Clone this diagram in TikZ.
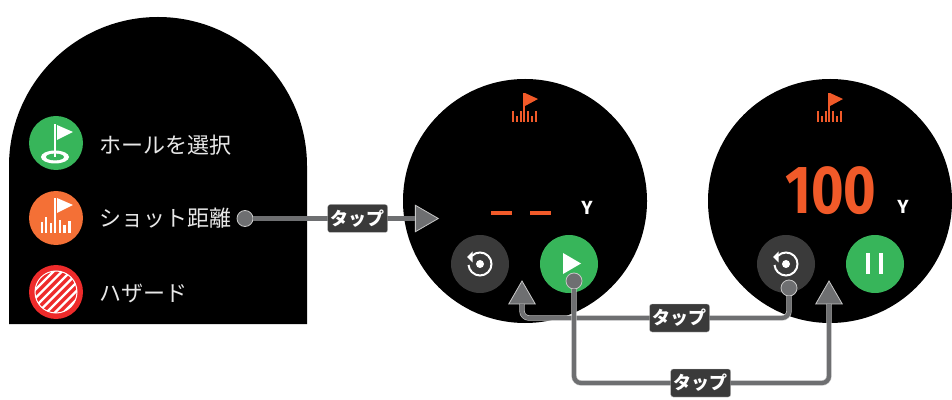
\documentclass[tikz,border=0pt]{standalone}
\usepackage{fontspec}
\setmainfont{Noto Sans CJK JP}
\newfontfamily\unitfont[BoldFont={Fira Sans Bold}]{Fira Sans}
\newfontfamily\distfont[BoldFont={Fira Sans Bold},BoldFeatures={FakeStretch=.82}]{Fira Sans}
\usetikzlibrary{shapes.geometric}
\definecolor{linegray}{HTML}{6E6F71}
\definecolor{edgegray}{HTML}{C8C8C8}
\definecolor{keygray}{HTML}{3A3A3A}
\definecolor{golfgreen}{HTML}{37B55A}
\definecolor{shotorange}{HTML}{F47036}
\definecolor{hazardred}{HTML}{EE2B2B}
\definecolor{distorange}{HTML}{F15A29}
\definecolor{menutext}{HTML}{E8E8E8}
\tikzset{
    watch/.style={circle,fill=black,minimum size=244pt,inner sep=0pt,outer sep=0pt},
    icon/.style={circle,minimum size=54pt,inner sep=0pt,outer sep=0pt},
    button/.style={circle,minimum size=58pt,inner sep=0pt,outer sep=0pt},
    menu/.style={anchor=west,inner sep=0pt,text=menutext,font=\fontsize{22}{24}\selectfont},
    unit/.style={text=white,inner sep=0pt,font=\unitfont\bfseries\fontsize{19}{20}\selectfont},
    grip/.style={circle,fill=linegray,draw=edgegray,line width=.8pt,minimum size=16pt,inner sep=0pt,outer sep=0pt},
    pointer/.style={regular polygon,regular polygon sides=3,fill=linegray,draw=edgegray,line width=.8pt,minimum size=30.6pt,inner sep=0pt,outer sep=0pt},
    link/.style={draw=edgegray,line width=.6pt,double=linegray,double distance=4.2pt,rounded corners=7pt},
    tapbox/.style={fill=keygray,draw=edgegray,line width=.3pt,rounded corners=2.5pt,minimum width=60pt,minimum height=28pt,inner sep=0pt,text=white,font=\bfseries\fontsize{18}{20}\selectfont}
}
\begin{document}
\begin{tikzpicture}[x=1pt,y=1pt]
    \useasboundingbox (0,0) rectangle (952,399);
    % menu panel
    \fill[black] (9,75) -- (9,233) arc (180:0:149) -- (307,75) -- cycle;
    \node[icon,fill=golfgreen] (holeicon) at (56,256) {};
    \node[icon,fill=shotorange] (shoticon) at (56,181) {};
    \node[icon,fill=hazardred] (hazardicon) at (56,107) {};
    \node[menu] (holetext) at (99.5,254) {ホールを選択};
    \node[menu] (shottext) at (99.5,181) {ショット距離};
    \node[menu] (hazardtext) at (99.5,106) {ハザード};
    % hole icon
    \fill[white] (55,242) ellipse (14 and 6.5);
    \fill[golfgreen] (55,242) ellipse (9 and 3.4);
    \fill[white] (53.8,242) rectangle (56.4,275);
    \fill[white] (57,274) -- (73,267) -- (57,259) -- cycle;
    % shot icon
    \fill[white] (53.8,166) rectangle (56.4,201);
    \fill[white] (57,201) -- (73,194) -- (57,186) -- cycle;
    \foreach \bx/\bt in {41.7/177,46/182,50.7/176,60/179,64.3/174,69.3/178}
        \fill[white] (\bx-1.2,166) rectangle (\bx+1.2,\bt);
    % hazard icon
    \begin{scope}
        \clip (56,107) circle (21);
        \fill[hazardred] (30,80) rectangle (82,134);
        \foreach \sx in {-40,-31.5,...,40}
            \draw[white,line width=2.4pt] (56+\sx-30,107-30) -- (56+\sx+30,107+30);
    \end{scope}
    \draw[white,line width=1pt] (56,107) circle (21);
    % watch faces
    \node[watch] (faceA) at (525,198) {};
    \node[watch] (faceB) at (830,198) {};
    \foreach \fx in {525,830} {
        \fill[distorange] (\fx-2,277) rectangle (\fx,306);
        \fill[distorange] (\fx,306) -- (\fx+13,300) -- (\fx,293) -- cycle;
        \foreach \bx/\bt in {-12/288,-8/283,-4/288,3/288,7/283,11/288}
            \fill[distorange] (\fx+\bx-1,277) rectangle (\fx+\bx+1,\bt);
    }
    \fill[distorange] (491,183.8) rectangle (512,188.2);
    \fill[distorange] (530,183.8) rectangle (551,188.2);
    \node[unit] (unitA) at (587,191) {Y};
    \node[inner sep=0pt,text=distorange,font=\distfont\bfseries\fontsize{68}{70}\selectfont] (dist) at (831,208.5) {100};
    \node[unit] (unitB) at (903,192) {Y};
    % buttons
    \foreach \rx/\rname in {480/resetA,786/resetB} {
        \node[button,fill=keygray] (\rname) at (\rx,135) {};
        \draw[white,line width=2pt] (\rx,135)++(135:11.5) arc (135:-175:11.5);
        \fill[white] (\rx-13,142) -- (\rx-7.5,147.5) -- (\rx-7.5,136.5) -- cycle;
        \fill[white] (\rx,135) circle (4);
    }
    \node[button,fill=golfgreen] (play) at (569,135) {};
    \fill[white] (563,146) -- (581,135.5) -- (563,125) -- cycle;
    \node[button,fill=golfgreen] (pause) at (875,135) {};
    \fill[white] (866.2,125) rectangle (869.8,146);
    \fill[white] (879.2,125) rectangle (882.8,146);
    % pointers
    \node[grip] (gripA) at (245,180.5) {};
    \node[grip] (gripB) at (574,118) {};
    \node[grip] (gripC) at (789,111) {};
    \node[pointer,shape border rotate=-90] (pointA) at (423,180.5) {};
    \node[pointer] (pointB) at (522,102.7) {};
    \node[pointer] (pointC) at (829,102.7) {};
    \coordinate (bendB1) at (789,81);
    \coordinate (bendB2) at (522,81);
    \coordinate (bendC1) at (574,16);
    \coordinate (bendC2) at (829,16);
    \draw[link] (gripC) -- (bendB1) -- node[tapbox,pos=.41] (tapB) {タップ} (bendB2) -- (pointB.south);
    \draw[link] (gripB) -- (bendC1) -- node[tapbox,pos=.497] (tapC) {タップ} (bendC2) -- (pointC.south);
    \draw[link] (gripA) -- node[tapbox,pos=.645] (tapA) {タップ} (pointA);
\end{tikzpicture}
\end{document}
